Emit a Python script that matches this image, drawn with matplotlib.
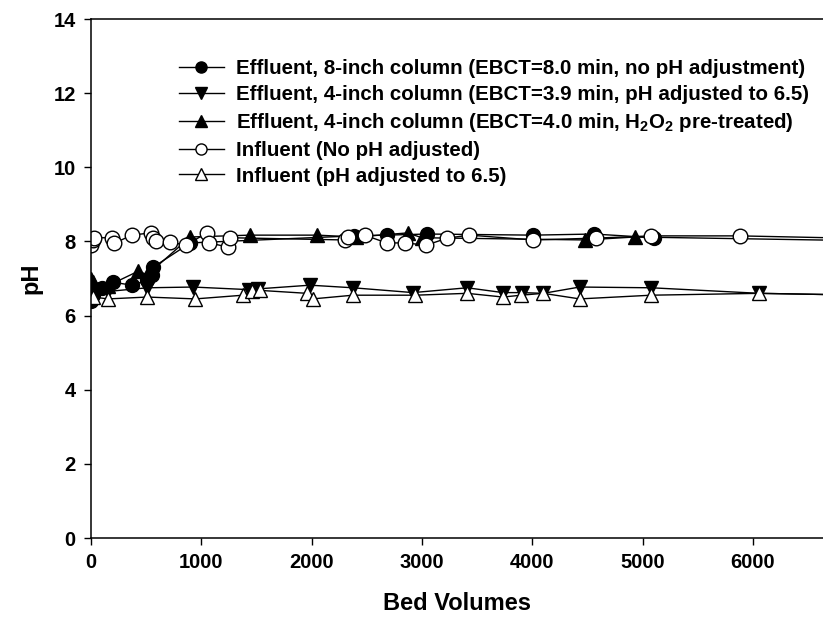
import matplotlib
matplotlib.use('Agg')
import matplotlib.pyplot as plt

plt.rcParams['font.family'] = ['Liberation Sans', 'DejaVu Sans']
plt.rcParams['font.weight'] = 'bold'
plt.rcParams['mathtext.fontset'] = 'custom'
plt.rcParams['mathtext.rm'] = 'Liberation Sans:bold'
plt.rcParams['mathtext.default'] = 'rm'

# Effluent, 8-inch column
eff8_bv = [0, 20, 100, 200, 370, 510, 550, 560, 900, 2380, 2680, 3045, 4010, 4560, 5100]
eff8_ph = [6.4, 6.55, 6.75, 6.9, 6.82, 6.95, 7.1, 7.3, 7.96, 8.15, 8.17, 8.2, 8.17, 8.2, 8.1]

# Effluent, 4-inch column, pH adjusted
eff4_bv = [0, 20, 150, 510, 925, 1430, 1510, 1985, 2375, 2920, 3410, 3735, 3905, 4100, 4430, 5080, 6060, 7000]
eff4_ph = [6.5, 6.7, 6.65, 6.75, 6.77, 6.7, 6.72, 6.82, 6.75, 6.62, 6.75, 6.62, 6.62, 6.6, 6.77, 6.75, 6.6, 6.55]

# Effluent, 4-inch column, H2O2 pre-treated
h2o2_bv = [0, 20, 150, 430, 510, 900, 1440, 2050, 2400, 2870, 3000, 4480, 4930, 7000]
h2o2_ph = [7.0, 6.9, 6.8, 7.2, 7.1, 8.12, 8.17, 8.17, 8.12, 8.23, 8.1, 8.04, 8.12, 8.02]

# Influent, no pH adjustment
inf_bv = [0, 15, 30, 190, 210, 370, 540, 560, 590, 720, 860, 1050, 1070, 1240, 1260,
          2300, 2330, 2480, 2680, 2850, 3040, 3230, 3430, 4010, 4580, 5080, 5880, 7000]
inf_ph = [7.9, 8.05, 8.1, 8.1, 7.95, 8.17, 8.23, 8.1, 8.0, 7.98, 7.9, 8.23, 7.96, 7.85, 8.1,
          8.04, 8.12, 8.17, 7.96, 7.96, 7.9, 8.09, 8.17, 8.04, 8.09, 8.15, 8.15, 8.08]

# Influent, pH adjusted to 6.5
inf65_bv = [20, 155, 510, 945, 1380, 1460, 1530, 1960, 2010, 2375, 2940, 3410, 3735, 3900,
            4100, 4430, 5080, 6060, 7000]
inf65_ph = [6.5, 6.45, 6.5, 6.45, 6.55, 6.65, 6.68, 6.6, 6.45, 6.55, 6.55, 6.6, 6.5, 6.55,
            6.6, 6.45, 6.55, 6.6, 6.55]

fig = plt.figure(figsize=(8.23, 6.23), dpi=100)
ax = fig.add_axes([0.1106, 0.1364, 0.8894, 0.8331])

kw = dict(color='black', lw=1.0, mec='black', mew=1.0)
ax.plot(eff8_bv, eff8_ph, 'o-', ms=10, mfc='black',
        label='Effluent, 8-inch column (EBCT=8.0 min, no pH adjustment)', **kw)
ax.plot(eff4_bv, eff4_ph, 'v-', ms=10, mfc='black',
        label='Effluent, 4-inch column (EBCT=3.9 min, pH adjusted to 6.5)', **kw)
ax.plot(h2o2_bv, h2o2_ph, '^-', ms=10, mfc='black',
        label='Effluent, 4-inch column (EBCT=4.0 min, H$_2$O$_2$ pre-treated)', **kw)
ax.plot(inf_bv, inf_ph, 'o-', ms=10.5, mfc='white',
        label='Influent (No pH adjusted)', **kw)
ax.plot(inf65_bv, inf65_ph, '^-', ms=10, mfc='white',
        label='Influent (pH adjusted to 6.5)', **kw)

ax.set_xlim(0, 6636)
ax.set_ylim(0, 14)
ax.set_xticks(range(0, 7000, 1000))
ax.set_yticks(range(0, 15, 2))
ax.tick_params(direction='out', length=5, width=1, labelsize=14.5, pad=6)
for s in ['left', 'bottom', 'top']:
    ax.spines[s].set_linewidth(1.1)
ax.spines['right'].set_visible(False)

ax.set_xlabel('Bed Volumes', fontsize=17, fontweight='bold', labelpad=14)
ax.set_ylabel('pH', fontsize=17, fontweight='bold', labelpad=8)

leg = ax.legend(loc='upper left', bbox_to_anchor=(0.12, 0.922), frameon=False,
                fontsize=14.8, handlelength=2.2, handletextpad=0.6,
                labelspacing=0.33, borderpad=0, borderaxespad=0)
for h in leg.legend_handles:
    h.set_markersize(8)

fig.savefig('out.png', dpi=100)
